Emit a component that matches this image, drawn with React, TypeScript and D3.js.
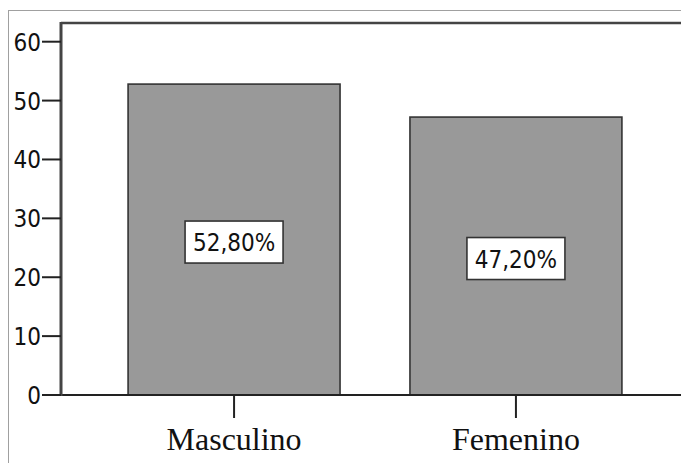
import React from "react";
import * as d3 from "d3";

const categories = ["Masculino", "Femenino"];
const values = [52.8, 47.2];
const valueLabels = ["52,80%", "47,20%"];
const yTicks = [0, 10, 20, 30, 40, 50, 60];

export default function App() {
  const W = 681, H = 463;
  const left = 61, right = 689, top = 23, bottom = 395;
  const x = d3.scaleBand<string>().domain(categories).range([left, right]).paddingInner(0.248).paddingOuter(0.238);
  const y = d3.scaleLinear().domain([0, 60]).range([bottom, 41.7]);
  const sans = "'DejaVu Sans Condensed', 'DejaVu Sans', sans-serif";
  return (
    <svg width={W} height={H} style={{ position: "absolute", left: 0, top: 0, background: "#fff" }}>
      <rect x={8.5} y={10.5} width={W + 20} height={H + 20} fill="#fff" stroke="#a0a0a0" strokeWidth={1} />
      <rect x={left} y={top} width={right - left} height={bottom - top} fill="#fff" stroke="none" />
      {categories.map((c, i) => {
        const bx = x(c)!;
        const bw = x.bandwidth();
        const yt = y(values[i]);
        const cx = bx + bw / 2;
        const cy = (yt + y(0)) / 2 + 2.5;
        return (
          <g key={c}>
            <rect x={bx} y={yt} width={bw} height={y(0) - yt} fill="#999999" stroke="#333" strokeWidth={1.6} />
            <rect x={cx - 49} y={cy - 21} width={98} height={42} fill="#fff" stroke="#333" strokeWidth={1.6} />
            <text x={cx} y={cy + 9} textAnchor="middle" fontFamily={sans} fontStretch="condensed" fontSize={24} fill="#111">
              {valueLabels[i]}
            </text>
            <line x1={cx} x2={cx} y1={bottom} y2={418} stroke="#222" strokeWidth={2} />
            <text x={cx} y={450} textAnchor="middle" fontFamily="'Liberation Serif', 'Times New Roman', serif" fontSize={32} fill="#111">
              {c}
            </text>
          </g>
        );
      })}
      <line x1={left} x2={right} y1={top} y2={top} stroke="#444" strokeWidth={2.5} />
      <line x1={left} x2={right} y1={bottom} y2={bottom} stroke="#222" strokeWidth={2} />
      <line x1={left} x2={left} y1={top - 1} y2={bottom + 1} stroke="#444" strokeWidth={3} />
      {yTicks.map((t) => (
        <g key={t}>
          <line x1={42} x2={left} y1={y(t)} y2={y(t)} stroke="#222" strokeWidth={2} />
          <text x={41} y={y(t) + 9} textAnchor="end" fontFamily={sans} fontStretch="condensed" fontSize={24} fill="#111">
            {t}
          </text>
        </g>
      ))}
    </svg>
  );
}
